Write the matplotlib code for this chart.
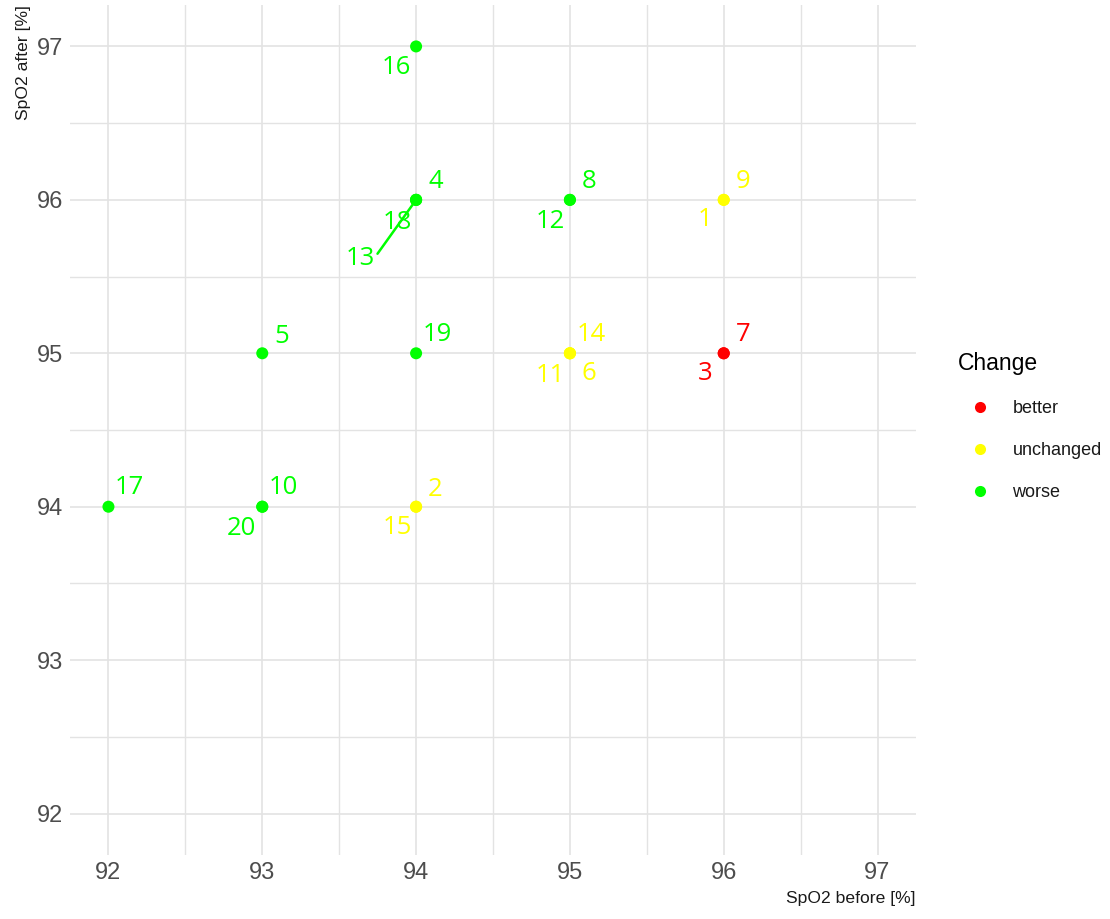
import matplotlib
matplotlib.use('Agg')
import matplotlib.pyplot as plt
from matplotlib.lines import Line2D
from matplotlib.ticker import MultipleLocator

plt.rcParams['font.family'] = ['Liberation Sans', 'DejaVu Sans']

# data: patient id, SpO2 before / after, change group
ids = [str(i) for i in range(1, 21)]
before = [96, 94, 96, 94, 93, 95, 96, 95, 96, 93, 95, 95, 94, 95, 94, 94, 92, 94, 94, 93]
after = [96, 94, 95, 96, 95, 95, 95, 96, 96, 94, 95, 96, 96, 95, 94, 97, 94, 96, 95, 94]
change = ['unchanged', 'unchanged', 'better', 'worse', 'worse', 'unchanged', 'better',
          'worse', 'unchanged', 'worse', 'unchanged', 'worse', 'worse', 'unchanged',
          'unchanged', 'worse', 'worse', 'worse', 'worse', 'worse']
groups = ['better', 'unchanged', 'worse']
colors = {'better': '#FF0000', 'unchanged': '#FFFF00', 'worse': '#00FF00'}

# label offsets in pixels (repel-like placement), dy positive = down
offsets = [(-19, 20), (19, -17), (-19, 20), (20, -18), (19, -17), (19, 20), (19, -19),
           (19, -18), (19, -18), (21, -19), (-20, 22), (-20, 22), (-56, 59), (21, -19),
           (-19, 21), (-20, 21), (21, -19), (-19, 23), (21, -19), (-21, 22)]

fig = plt.figure(figsize=(11.1, 9.19), dpi=100)
ax = fig.add_axes([70 / 1110, 1 - 855 / 919, 846 / 1110, 850 / 919])

for g in groups:
    xs = [b for b, c in zip(before, change) if c == g]
    ys = [a for a, c in zip(after, change) if c == g]
    ax.scatter(xs, ys, s=75, color=colors[g], edgecolors='none', zorder=3, label=g)

pt = 72 / 100
for i, lab in enumerate(ids):
    dx, dy = offsets[i]
    kw = {}
    if lab == '13':
        kw['arrowprops'] = dict(arrowstyle='-', color=colors[change[i]], lw=1.8,
                                shrinkA=0, shrinkB=4, relpos=(1.0, 0.55))
    ax.annotate(lab, (before[i], after[i]), xytext=(dx * pt, -dy * pt),
                textcoords='offset points', ha='center', va='center',
                fontsize=18.5, color=colors[change[i]], family='Open Sans',
                zorder=4, **kw)

ax.set_xlim(91.75, 97.25)
ax.set_ylim(91.73, 97.27)
ax.xaxis.set_major_locator(MultipleLocator(1))
ax.yaxis.set_major_locator(MultipleLocator(1))
ax.xaxis.set_minor_locator(MultipleLocator(0.5))
ax.yaxis.set_minor_locator(MultipleLocator(0.5))
ax.grid(True, which='major', color='#E3E3E3', lw=1.2, zorder=0)
ax.grid(True, which='minor', color='#E3E3E3', lw=1.0, zorder=0)
ax.set_axisbelow(True)
for s in ax.spines.values():
    s.set_visible(False)
ax.tick_params(which='both', length=0, labelsize=17, labelcolor='#4D4D4D', pad=5)

ax.set_xlabel('SpO2 before [%]', fontsize=12.6, color='#1A1A1A', loc='right', labelpad=5)
ax.set_ylabel('SpO2 after [%]', fontsize=12.6, color='#1A1A1A', loc='top', labelpad=4)

handles = [Line2D([], [], marker='o', ls='none', markersize=8, markeredgewidth=0,
                  color=colors[g]) for g in groups]
leg = fig.legend(handles, groups, title='Change', loc='upper left',
                 bbox_to_anchor=(951 / 1110, 1 - 345 / 919), frameon=False,
                 fontsize=13, title_fontsize=16.5, labelspacing=1.38,
                 handletextpad=0.6, handlelength=2.4, borderaxespad=0)
leg._legend_box.align = 'left'
for t in leg.get_texts():
    t.set_color('#1A1A1A')

fig.savefig('out.png', dpi=100)
